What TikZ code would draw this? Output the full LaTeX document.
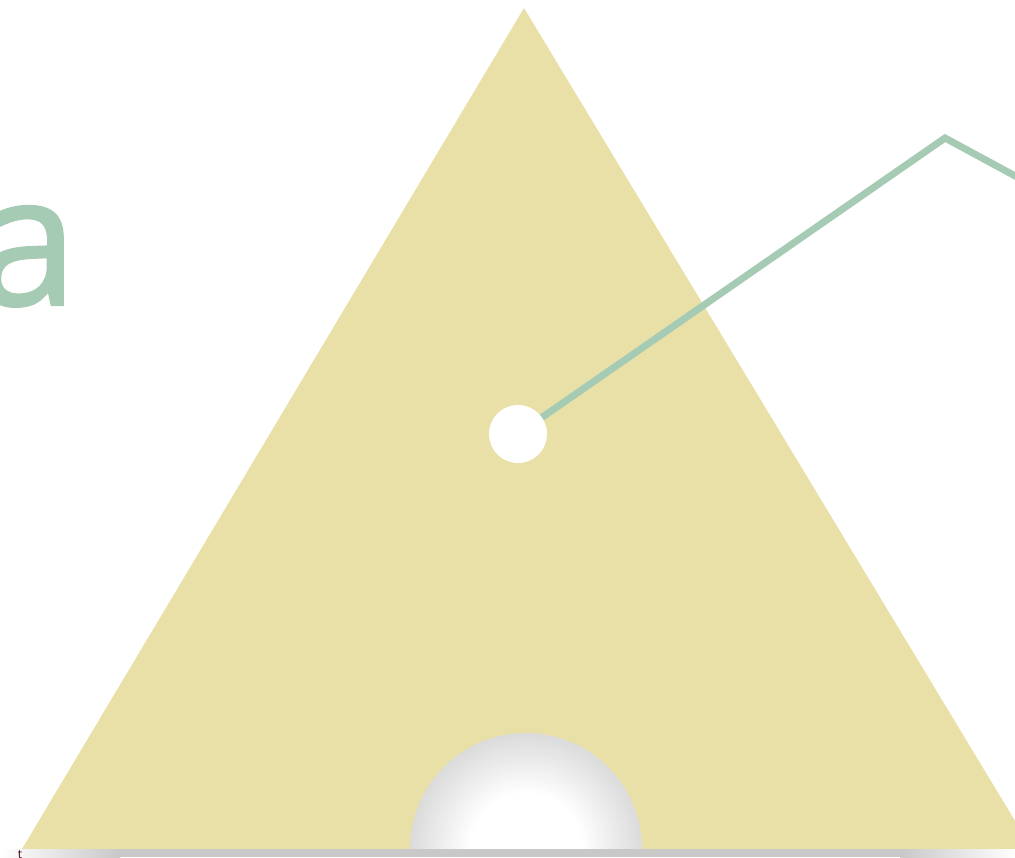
\documentclass[tikz,border=0pt]{standalone}
\usepackage{fontspec}
\setmainfont{Open Sans}
\newfontfamily\letterfont[FakeBold=1.3]{Open Sans}
\definecolor{tri}{HTML}{E9E0A8}
\definecolor{sage}{HTML}{A6CBB5}
\definecolor{shadowgray}{HTML}{C8C8C8}
\pgfdeclareradialshading{cutshade}{\pgfpoint{0bp}{0bp}}{color(0bp)=(white); color(12bp)=(white); color(28bp)=(gray!35); color(50bp)=(gray!42)}
\tikzset{
  leader/.style={draw=sage, line width=7pt, line join=miter},
  dot/.style={circle, fill=white, minimum size=58pt, inner sep=0pt},
  bigletter/.style={text=sage, font=\letterfont\fontsize{182}{182}\selectfont, inner sep=0pt, anchor=base west},
}
\begin{document}
\begin{tikzpicture}[x=1pt,y=-1pt]
\useasboundingbox (0,0) rectangle (1015,857);
\clip (0,0) rectangle (1015,857);
\fill[white] (0,0) rectangle (1015,857);
% big letter
\node[bigletter] (letter) at (-24,305) {a};
% triangle
\fill[tri] (524,8) -- (1032,849) -- (22,849) -- cycle;
% semicircular cutout
\begin{scope}
\clip (380,700) rectangle (670,849);
\shade[shading=cutshade] (526,849) circle (116);
\end{scope}
% bottom shadow strip
\shade[left color=white, right color=shadowgray] (0,849) rectangle (120,857);
\fill[shadowgray] (120,849) rectangle (900,857);
\shade[left color=shadowgray, right color=white] (900,849) rectangle (1015,857);
% small text fragment
\node[text=black!70!purple, font=\fontsize{12}{12}\selectfont, inner sep=0pt, anchor=north] (frag) at (20,850) {t};
% leader line and dot
\node[dot] (pt) at (518,434) {};
\coordinate (bend) at (945,138);
\coordinate (tail) at (1030,184);
\draw[leader] (pt) -- (bend) -- (tail);
\end{tikzpicture}
\end{document}
